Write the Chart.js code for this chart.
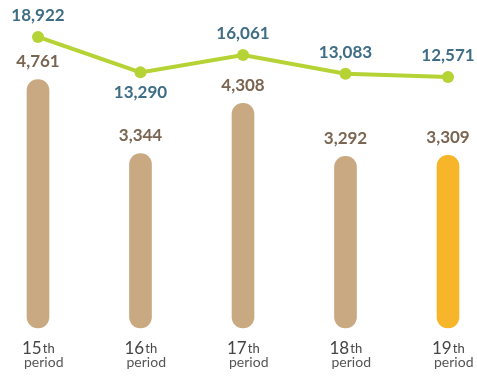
<!DOCTYPE html>
<html>
<head>
<meta charset="utf-8">
<script src="https://cdn.jsdelivr.net/npm/chart.js@4/dist/chart.umd.min.js"></script>
<style>
  html, body { margin: 0; padding: 0; background: #fff; }
  #wrap { width: 477px; height: 376px; }
</style>
</head>
<body>
<div id="wrap"><canvas id="grafico" width="477" height="376"></canvas></div>
<script>
var periodi = ["15", "16", "17", "18", "19"];
var suffisso = "th";
var sottotitolo = "period";
var valoriBarre = [4761, 3344, 4308, 3292, 3309];
var valoriLinea = [18922, 13290, 16061, 13083, 12571];
// the 13,290 label sits under its point
var etichettaSotto = [false, true, false, false, false];

var coloreBarra = '#c9a981';
var coloreUltima = '#f7b52a';
var coloreLinea = '#b6d335';

var fmt = function(v){ return v.toLocaleString('en-US'); };

// value labels above the bars and around the line points
var etichette = {
  id: 'etichette',
  afterDatasetsDraw: function(chart){
    var ctx = chart.ctx;
    ctx.save();
    ctx.textAlign = 'center';
    ctx.textBaseline = 'middle';
    ctx.font = 'bold 17px Lato';

    var barre = chart.getDatasetMeta(0).data;
    ctx.fillStyle = '#7a6553';
    barre.forEach(function(el, i){
      ctx.fillText(fmt(valoriBarre[i]), el.x, el.y - 18);
    });

    var punti = chart.getDatasetMeta(1).data;
    ctx.fillStyle = '#3e6d85';
    punti.forEach(function(el, i){
      var dy = etichettaSotto[i] ? 20 : -21;
      ctx.fillText(fmt(valoriLinea[i]), el.x, el.y + dy);
    });
    ctx.restore();
  }
};

// category labels: "15th" with a smaller suffix, "period" underneath
var assex = {
  id: 'assex',
  afterDraw: function(chart){
    var ctx = chart.ctx;
    var scala = chart.scales.x;
    ctx.save();
    ctx.textAlign = 'left';
    ctx.textBaseline = 'alphabetic';
    periodi.forEach(function(p, i){
      var x = scala.getPixelForValue(i);
      ctx.fillStyle = '#454545';
      ctx.font = '17px Lato';
      ctx.fillText(p, x - 16, 354);
      var w = ctx.measureText(p).width;
      ctx.font = '13px Lato';
      ctx.fillText(suffisso, x - 16 + w + 1, 353);
      ctx.fillStyle = '#555555';
      ctx.font = '14px Lato';
      ctx.fillText(sottotitolo, x - 14, 367);
    });
    ctx.restore();
  }
};

new Chart(document.getElementById('grafico'), {
  data: {
    labels: periodi,
    datasets: [{
      type: 'bar',
      data: valoriBarre,
      backgroundColor: valoriBarre.map(function(v, i){
        return i === valoriBarre.length - 1 ? coloreUltima : coloreBarra;
      }),
      barThickness: 22,
      borderRadius: 11,
      borderSkipped: false,
      clip: false,
      yAxisID: 'y',
      order: 2
    }, {
      type: 'line',
      data: valoriLinea,
      borderColor: coloreLinea,
      backgroundColor: coloreLinea,
      borderWidth: 4,
      pointRadius: 6,
      pointHoverRadius: 6,
      pointBorderWidth: 0,
      tension: 0,
      clip: false,
      yAxisID: 'y1',
      order: 1
    }]
  },
  options: {
    responsive: false,
    animation: false,
    layout: { padding: { left: 38, right: 29, top: 15, bottom: 48 } },
    plugins: { legend: { display: false }, tooltip: { enabled: false } },
    scales: {
      x: { display: false, offset: false },
      y: { display: false, min: 0, max: 6000 },
      y1: { display: false, min: -27300, max: 22400 }
    }
  },
  plugins: [etichette, assex]
});
</script>
</body>
</html>
